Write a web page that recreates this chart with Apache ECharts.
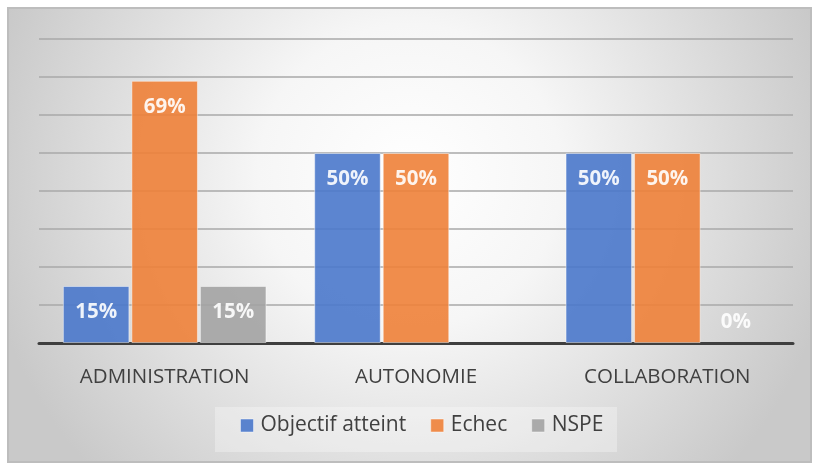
<!DOCTYPE html>
<html>
<head>
<meta charset="utf-8">
<script src="https://cdn.jsdelivr.net/npm/echarts@6/dist/echarts.min.js"></script>
<style>
  html, body { margin: 0; padding: 0; background: #ffffff; }
  #chart { width: 813px; height: 465px; }
</style>
</head>
<body>
<div id="chart"></div>
<script>
// Competency results per domain (percent)
const categories = ['ADMINISTRATION', 'AUTONOMIE', 'COLLABORATION'];
const seriesNames = ['Objectif atteint', 'Echec', 'NSPE'];
const objectifAtteint = [15, 50, 50];
const echec = [69, 50, 50];
const nspe = [15, null, 0];

const colors = ['#4a78cb', '#ee8139', '#a3a3a3'];
const FONT = '"Open Sans", "DejaVu Sans", sans-serif';

const chart = echarts.init(document.getElementById('chart'), null, { renderer: 'canvas' });

function makeSeries(name, values, color) {
  return {
    name: name,
    type: 'bar',
    data: values.map(v => {
      if (v === 0) {
        // a zero bar keeps its label just above the baseline, with no visible outline
        return {
          value: v,
          itemStyle: { borderWidth: 0 },
          label: { position: 'top', distance: 10, color: '#ffffff' }
        };
      }
      return v;
    }),
    itemStyle: { color: color, opacity: 0.9, borderColor: 'rgba(255,255,255,0.5)', borderWidth: 1 },
    barGap: '3%',
    barCategoryGap: '19%',
    label: {
      show: true,
      position: 'insideTop',
      distance: 16,
      color: '#ffffff',
      fontFamily: FONT,
      fontWeight: 'bold',
      fontSize: 20.5,
      formatter: p => (p.value === null || p.value === undefined) ? '' : p.value + '%'
    }
  };
}

chart.setOption({
  animation: false,
  textStyle: { fontFamily: FONT },
  color: colors,
  graphic: [{
    type: 'rect',
    z: -10,
    silent: true,
    shape: { x: 8, y: 8, width: 803, height: 454 },
    style: {
      fill: new echarts.graphic.RadialGradient(0.5, 0.37, 0.95, [
        { offset: 0, color: '#ffffff' },
        { offset: 0.35, color: '#f6f6f6' },
        { offset: 1, color: '#c9c9c9' }
      ]),
      stroke: '#bdbdbd',
      lineWidth: 2
    }
  }, {
    type: 'rect',
    z: -9,
    silent: true,
    shape: { x: 215, y: 407, width: 402, height: 45 },
    style: { fill: 'rgba(255,255,255,0.3)' }
  }],
  grid: { left: 39, right: 20, top: 39, bottom: 122 },
  legend: {
    data: seriesNames,
    left: 240,
    top: 415,
    padding: 0,
    itemWidth: 13,
    itemHeight: 13,
    itemGap: 24,
    icon: 'rect',
    itemStyle: { borderColor: 'rgba(255,255,255,0.5)', borderWidth: 1 },
    textStyle: { fontFamily: FONT, fontSize: 21, color: '#404040', padding: [0, 0, 0, 2] }
  },
  xAxis: {
    type: 'category',
    data: categories,
    axisLine: { lineStyle: { color: '#3f3f3f', width: 3 } },
    axisTick: { show: false },
    axisLabel: { color: '#404040', fontSize: 20.5, fontFamily: FONT, margin: 24 }
  },
  yAxis: {
    type: 'value',
    min: 0,
    max: 80,
    interval: 10,
    axisLabel: { show: false },
    axisLine: { show: false },
    axisTick: { show: false },
    splitLine: { lineStyle: { color: '#a8a8a8', width: 1.5 } }
  },
  series: [
    makeSeries(seriesNames[0], objectifAtteint, colors[0]),
    makeSeries(seriesNames[1], echec, colors[1]),
    makeSeries(seriesNames[2], nspe, colors[2])
  ]
});
</script>
</body>
</html>
